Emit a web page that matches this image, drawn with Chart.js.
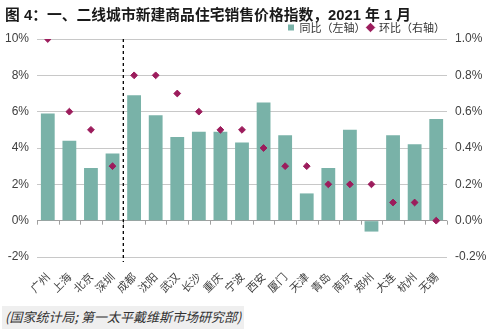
<!DOCTYPE html>
<html>
<head>
<meta charset="utf-8">
<script src="https://cdn.jsdelivr.net/npm/chart.js@4/dist/chart.umd.min.js"></script>
<style>
  html, body { margin: 0; padding: 0; background: #fff; }
  #wrap { position: relative; width: 500px; height: 332px; overflow: hidden; }
  #title { position: absolute; left: 5px; top: 3px; font: bold 14.8px "Liberation Sans", "Noto Sans CJK SC", sans-serif; color: #1a1a1a; white-space: nowrap; }
  #source { position: absolute; left: 2px; top: 306px; padding: 2px 3px 3px 3px; background: #efefef; font: italic 13px "Noto Sans CJK SC", sans-serif; color: #333; white-space: nowrap; line-height: 18px; }
  canvas { position: absolute; left: 0; top: 0; }
</style>
</head>
<body>
<div id="wrap">
  <canvas id="c" width="500" height="332"></canvas>
  <div id="title">图 4：一、二线城市新建商品住宅销售价格指数，2021 年 1 月</div>
  <div id="source">(国家统计局; 第一太平戴维斯市场研究部)</div>
</div>
<script>
const cities = ["广州","上海","北京","深圳","成都","沈阳","武汉","长沙","重庆","宁波","西安","厦门","天津","青岛","南京","郑州","大连","杭州","无锡"];
const yoy = [5.9, 4.4, 2.9, 3.7, 6.9, 5.8, 4.6, 4.9, 4.9, 4.3, 6.5, 4.7, 1.5, 2.9, 5.0, -0.6, 4.7, 4.2, 5.6];
const mom = [1.0, 0.6, 0.5, 0.3, 0.8, 0.8, 0.7, 0.6, 0.5, 0.5, 0.4, 0.3, 0.3, 0.2, 0.2, 0.2, 0.1, 0.1, 0.0];
const seriesNames = ["同比（左轴）", "环比（右轴）"];
const leftTicks = [-2, 0, 2, 4, 6, 8, 10];
const rightTicks = [-0.2, 0, 0.2, 0.4, 0.6, 0.8, 1.0];
const dividerAfterIndex = 3;

const extras = {
  id: 'extras',
  afterLayout(chart) {
    if (chart.legend) { chart.legend.top += 4; chart.legend.bottom += 4; }
  },
  afterDatasetsDraw(chart) {
    const { ctx, chartArea, scales } = chart;
    const x = scales.x, y = scales.y;
    const y0 = y.getPixelForValue(0);
    ctx.save();
    ctx.strokeStyle = '#a0a0a0';
    ctx.lineWidth = 1;
    for (let i = 0; i <= cities.length; i++) {
      const px = Math.round(x.getPixelForValue(i - 0.5)) + 0.5;
      ctx.beginPath();
      ctx.moveTo(px, y0);
      ctx.lineTo(px, y0 + 4);
      ctx.stroke();
    }
    const dx = x.getPixelForValue(dividerAfterIndex + 0.5);
    ctx.strokeStyle = '#000';
    ctx.lineWidth = 1.3;
    ctx.setLineDash([3, 3]);
    ctx.beginPath();
    ctx.moveTo(dx, chartArea.top);
    ctx.lineTo(dx, chartArea.bottom + 5);
    ctx.stroke();
    ctx.restore();
  }
};

new Chart(document.getElementById('c'), {
  data: {
    labels: cities,
    datasets: [
      {
        type: 'bar', label: seriesNames[0], data: yoy, yAxisID: 'y',
        backgroundColor: '#79b2a8', borderWidth: 0,
        categoryPercentage: 1.0, barPercentage: 0.64,
        pointStyle: 'rect', order: 2
      },
      {
        type: 'line', label: seriesNames[1], data: mom, yAxisID: 'y1',
        showLine: false, pointStyle: 'rectRot', pointRadius: 3.4,
        pointBackgroundColor: '#9c1c5c', pointBorderColor: '#9c1c5c',
        backgroundColor: '#9c1c5c', borderColor: '#9c1c5c', order: 1
      }
    ]
  },
  options: {
    responsive: false,
    animation: false,
    layout: { padding: { top: 16, left: 0, right: 0, bottom: 0 } },
    plugins: {
      legend: {
        position: 'top', align: 'end', fullSize: false,
        labels: {
          usePointStyle: true, boxWidth: 6, boxHeight: 6, padding: 2,
          sort: (a, b) => a.datasetIndex - b.datasetIndex,
          font: { size: 11, family: '"Noto Sans CJK SC", sans-serif' }, color: '#333'
        }
      },
      tooltip: { enabled: false }
    },
    scales: {
      x: {
        grid: { display: false }, border: { display: false },
        ticks: {
          maxRotation: 45, minRotation: 45, padding: 5, autoSkip: false,
          font: { size: 11, family: '"Noto Sans CJK SC", serif' }, color: '#404040'
        },
        afterFit(s) { s.height = 75; }
      },
      y: {
        position: 'left', min: -2, max: 10,
        afterBuildTicks(s) { s.ticks = leftTicks.map(v => ({ value: v })); },
        ticks: {
          callback: v => v + '%', padding: 8,
          font: { size: 12, family: '"Liberation Sans", Arial, sans-serif' }, color: '#404040'
        },
        grid: {
          drawTicks: false,
          color: c => c.tick && c.tick.value === 0 ? '#a0a0a0' : '#c8c8c8',
          lineWidth: 1
        },
        border: { display: false },
        afterFit(s) { s.width = 37; }
      },
      y1: {
        position: 'right', min: -0.2, max: 1.0,
        afterBuildTicks(s) { s.ticks = rightTicks.map(v => ({ value: v })); },
        ticks: {
          callback: v => v.toFixed(1) + '%', padding: 8,
          font: { size: 12, family: '"Liberation Sans", Arial, sans-serif' }, color: '#404040'
        },
        grid: { display: false, drawTicks: false },
        border: { display: false },
        afterFit(s) { s.width = 53; }
      }
    }
  },
  plugins: [extras]
});
</script>
</body>
</html>
